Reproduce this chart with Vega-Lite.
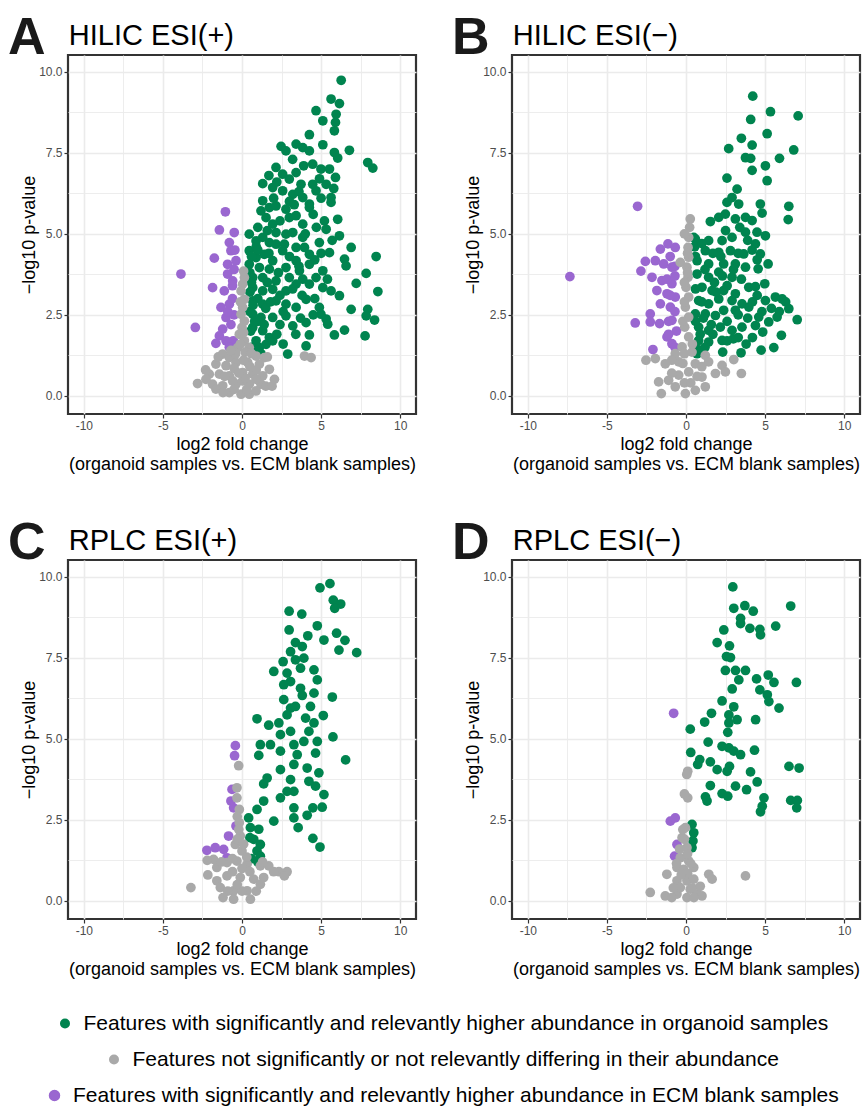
{
  "$schema": "https://vega.github.io/schema/vega-lite/v6.json",
  "padding": {"left": 6, "top": 10, "right": 0, "bottom": 0},
  "background": "white",
  "config": {
    "view": {"stroke": "#333333", "strokeWidth": 2.2},
    "font": "Liberation Sans",
    "axis": {"domain": false, "gridColor": "#EBEBEB", "tickColor": "#333333", "tickSize": 4, "tickWidth": 1.2, "labelColor": "#4D4D4D", "labelFontSize": 12, "labelFont": "Liberation Sans", "labelPadding": 2, "titleFont": "Liberation Sans", "titleFontSize": 18, "titleFontWeight": "normal", "titleColor": "#000000"},
    "legend": {"orient": "bottom", "direction": "vertical", "labelFont": "Liberation Sans", "labelFontSize": 21, "labelColor": "#000000", "labelLimit": 0, "symbolType": "circle", "symbolSize": 100, "symbolOffset": 14, "labelOffset": 8, "padding": 0, "offset": 33,
      "layout": {"bottom": {"anchor": "middle", "direction": "vertical", "center": true, "margin": 15}}}
  },
  "data": {"values": [
    {"p":"A","c":"g","x":6.27,"y":9.74},{"p":"A","c":"g","x":5.63,"y":9.16},{"p":"A","c":"g","x":6.16,"y":9.02},{"p":"A","c":"g","x":5.95,"y":8.69},{"p":"A","c":"g","x":5.91,"y":8.44},{"p":"A","c":"g","x":5.84,"y":8.18},{"p":"A","c":"g","x":4.68,"y":8.8},{"p":"A","c":"g","x":5.11,"y":8.49},{"p":"A","c":"g","x":4.26,"y":8.06},{"p":"A","c":"g","x":5.11,"y":7.75},{"p":"A","c":"g","x":6.79,"y":7.58},{"p":"A","c":"g","x":5.84,"y":7.51},{"p":"A","c":"g","x":6.05,"y":7.34},{"p":"A","c":"g","x":7.95,"y":7.2},{"p":"A","c":"g","x":8.27,"y":7.03},{"p":"A","c":"g","x":2.47,"y":7.7},{"p":"A","c":"g","x":2.78,"y":7.56},{"p":"A","c":"g","x":3.42,"y":7.77},{"p":"A","c":"g","x":3.84,"y":7.66},{"p":"A","c":"g","x":4.26,"y":7.56},{"p":"A","c":"g","x":4.47,"y":7.15},{"p":"A","c":"g","x":4.99,"y":7.0},{"p":"A","c":"g","x":5.53,"y":7.0},{"p":"A","c":"g","x":5.91,"y":6.74},{"p":"A","c":"g","x":5.32,"y":6.53},{"p":"A","c":"g","x":2.15,"y":7.05},{"p":"A","c":"g","x":2.57,"y":6.84},{"p":"A","c":"g","x":2.99,"y":6.69},{"p":"A","c":"g","x":3.42,"y":6.89},{"p":"A","c":"g","x":3.73,"y":6.53},{"p":"A","c":"g","x":1.31,"y":6.55},{"p":"A","c":"g","x":1.94,"y":6.43},{"p":"A","c":"g","x":2.57,"y":6.33},{"p":"A","c":"g","x":3.21,"y":6.22},{"p":"A","c":"g","x":3.84,"y":6.12},{"p":"A","c":"g","x":4.26,"y":5.92},{"p":"A","c":"g","x":4.68,"y":6.33},{"p":"A","c":"g","x":5.63,"y":6.12},{"p":"A","c":"g","x":5.63,"y":5.97},{"p":"A","c":"g","x":1.31,"y":6.02},{"p":"A","c":"g","x":1.73,"y":5.81},{"p":"A","c":"g","x":2.15,"y":5.86},{"p":"A","c":"g","x":2.78,"y":5.76},{"p":"A","c":"g","x":1.2,"y":5.71},{"p":"A","c":"g","x":1.52,"y":5.5},{"p":"A","c":"g","x":1.94,"y":5.3},{"p":"A","c":"g","x":2.99,"y":5.5},{"p":"A","c":"g","x":3.42,"y":5.56},{"p":"A","c":"g","x":4.26,"y":5.81},{"p":"A","c":"g","x":3.84,"y":5.3},{"p":"A","c":"g","x":5.21,"y":5.4},{"p":"A","c":"g","x":6.05,"y":5.45},{"p":"A","c":"g","x":5.32,"y":5.14},{"p":"A","c":"g","x":6.16,"y":4.94},{"p":"A","c":"g","x":2.15,"y":5.04},{"p":"A","c":"g","x":2.78,"y":4.99},{"p":"A","c":"g","x":3.21,"y":5.04},{"p":"A","c":"g","x":3.84,"y":4.89},{"p":"A","c":"g","x":0.46,"y":4.99},{"p":"A","c":"g","x":0.89,"y":4.78},{"p":"A","c":"g","x":1.31,"y":4.89},{"p":"A","c":"g","x":1.73,"y":4.73},{"p":"A","c":"g","x":2.15,"y":4.68},{"p":"A","c":"g","x":2.68,"y":4.68},{"p":"A","c":"g","x":3.42,"y":4.58},{"p":"A","c":"g","x":3.95,"y":4.58},{"p":"A","c":"g","x":4.89,"y":4.73},{"p":"A","c":"g","x":6.9,"y":4.58},{"p":"A","c":"g","x":0.46,"y":4.48},{"p":"A","c":"g","x":0.89,"y":4.27},{"p":"A","c":"g","x":1.41,"y":4.37},{"p":"A","c":"g","x":1.94,"y":4.17},{"p":"A","c":"g","x":2.57,"y":4.48},{"p":"A","c":"g","x":3.42,"y":4.17},{"p":"A","c":"g","x":4.26,"y":4.37},{"p":"A","c":"g","x":5.53,"y":4.42},{"p":"A","c":"g","x":8.48,"y":4.3},{"p":"A","c":"g","x":6.48,"y":4.22},{"p":"A","c":"g","x":6.58,"y":4.01},{"p":"A","c":"g","x":0.46,"y":4.06},{"p":"A","c":"g","x":1.1,"y":3.96},{"p":"A","c":"g","x":1.73,"y":3.91},{"p":"A","c":"g","x":2.78,"y":3.96},{"p":"A","c":"g","x":3.63,"y":3.86},{"p":"A","c":"g","x":4.26,"y":4.06},{"p":"A","c":"g","x":5.11,"y":3.86},{"p":"A","c":"g","x":0.68,"y":3.65},{"p":"A","c":"g","x":1.31,"y":3.65},{"p":"A","c":"g","x":2.15,"y":3.55},{"p":"A","c":"g","x":2.99,"y":3.65},{"p":"A","c":"g","x":3.84,"y":3.6},{"p":"A","c":"g","x":4.68,"y":3.65},{"p":"A","c":"g","x":7.85,"y":3.78},{"p":"A","c":"g","x":7.22,"y":3.47},{"p":"A","c":"g","x":0.68,"y":3.34},{"p":"A","c":"g","x":1.31,"y":3.24},{"p":"A","c":"g","x":1.94,"y":3.29},{"p":"A","c":"g","x":2.78,"y":3.24},{"p":"A","c":"g","x":3.42,"y":3.45},{"p":"A","c":"g","x":4.26,"y":3.45},{"p":"A","c":"g","x":5.11,"y":3.34},{"p":"A","c":"g","x":5.63,"y":3.24},{"p":"A","c":"g","x":6.16,"y":3.09},{"p":"A","c":"g","x":8.59,"y":3.22},{"p":"A","c":"g","x":0.68,"y":2.93},{"p":"A","c":"g","x":1.31,"y":2.83},{"p":"A","c":"g","x":2.15,"y":2.93},{"p":"A","c":"g","x":2.78,"y":2.83},{"p":"A","c":"g","x":3.42,"y":2.73},{"p":"A","c":"g","x":4.05,"y":2.98},{"p":"A","c":"g","x":4.89,"y":2.73},{"p":"A","c":"g","x":4.99,"y":2.52},{"p":"A","c":"g","x":5.32,"y":2.37},{"p":"A","c":"g","x":6.9,"y":2.67},{"p":"A","c":"g","x":7.95,"y":2.67},{"p":"A","c":"g","x":7.85,"y":2.47},{"p":"A","c":"g","x":8.38,"y":2.34},{"p":"A","c":"g","x":0.68,"y":2.52},{"p":"A","c":"g","x":1.2,"y":2.42},{"p":"A","c":"g","x":1.94,"y":2.42},{"p":"A","c":"g","x":2.78,"y":2.47},{"p":"A","c":"g","x":3.21,"y":2.16},{"p":"A","c":"g","x":4.05,"y":2.26},{"p":"A","c":"g","x":5.42,"y":2.21},{"p":"A","c":"g","x":6.48,"y":2.03},{"p":"A","c":"g","x":4.26,"y":1.88},{"p":"A","c":"g","x":5.84,"y":1.88},{"p":"A","c":"g","x":7.78,"y":1.85},{"p":"A","c":"g","x":0.68,"y":2.11},{"p":"A","c":"g","x":1.31,"y":2.01},{"p":"A","c":"g","x":1.73,"y":1.8},{"p":"A","c":"g","x":0.89,"y":1.7},{"p":"A","c":"g","x":1.52,"y":1.59},{"p":"A","c":"g","x":1.94,"y":1.7},{"p":"A","c":"g","x":4.05,"y":1.54},{"p":"A","c":"g","x":2.89,"y":1.29},{"p":"A","c":"g","x":1.1,"y":1.49},{"p":"A","c":"g","x":4.47,"y":6.53},{"p":"A","c":"g","x":0.5,"y":3.8},{"p":"A","c":"g","x":0.5,"y":3.2},{"p":"A","c":"g","x":0.5,"y":2.6},{"p":"A","c":"g","x":0.55,"y":2.0},{"p":"A","c":"g","x":0.6,"y":1.5},{"p":"A","c":"g","x":1.0,"y":2.3},{"p":"A","c":"g","x":1.0,"y":3.0},{"p":"A","c":"g","x":1.2,"y":1.3},{"p":"A","c":"g","x":0.9,"y":4.6},{"p":"A","c":"g","x":1.5,"y":2.7},{"p":"A","c":"g","x":1.6,"y":3.5},{"p":"A","c":"g","x":2.4,"y":3.1},{"p":"A","c":"g","x":2.4,"y":2.2},{"p":"A","c":"g","x":1.0,"y":5.2},{"p":"A","c":"g","x":1.6,"y":5.1},{"p":"A","c":"g","x":2.4,"y":5.4},{"p":"A","c":"g","x":3.0,"y":6.0},{"p":"A","c":"g","x":3.6,"y":6.3},{"p":"A","c":"g","x":2.0,"y":6.1},{"p":"A","c":"g","x":1.7,"y":4.4},{"p":"A","c":"g","x":2.3,"y":3.8},{"p":"A","c":"g","x":3.2,"y":3.3},{"p":"A","c":"g","x":3.8,"y":3.1},{"p":"A","c":"g","x":4.6,"y":3.0},{"p":"A","c":"g","x":4.5,"y":2.5},{"p":"A","c":"g","x":3.7,"y":2.4},{"p":"A","c":"g","x":2.2,"y":1.9},{"p":"A","c":"g","x":2.6,"y":1.6},{"p":"A","c":"g","x":3.4,"y":1.9},{"p":"A","c":"g","x":1.4,"y":2.2},{"p":"A","c":"g","x":1.8,"y":2.9},{"p":"A","c":"g","x":2.6,"y":2.6},{"p":"A","c":"g","x":3.0,"y":4.3},{"p":"A","c":"g","x":3.6,"y":4.0},{"p":"A","c":"g","x":4.6,"y":4.2},{"p":"A","c":"g","x":5.0,"y":4.4},{"p":"A","c":"g","x":5.7,"y":4.8},{"p":"A","c":"g","x":5.4,"y":3.6},{"p":"A","c":"g","x":4.0,"y":5.0},{"p":"A","c":"g","x":4.7,"y":5.2},{"p":"A","c":"g","x":4.5,"y":5.6},{"p":"A","c":"g","x":3.3,"y":5.9},{"p":"A","c":"g","x":5.0,"y":6.1},{"p":"A","c":"g","x":5.8,"y":6.4},{"p":"A","c":"g","x":4.9,"y":6.7},{"p":"A","c":"g","x":3.9,"y":7.1},{"p":"A","c":"g","x":3.2,"y":7.3},{"p":"A","c":"g","x":2.2,"y":6.6},{"p":"A","c":"g","x":1.7,"y":6.8},{"p":"A","c":"g","x":1.0,"y":4.5},{"p":"A","c":"g","x":0.6,"y":4.3},{"p":"A","c":"g","x":0.6,"y":3.5},{"p":"A","c":"g","x":0.7,"y":2.8},{"p":"A","c":"g","x":0.8,"y":2.3},{"p":"A","c":"g","x":0.9,"y":1.4},
    {"p":"A","c":"u","x":-1.05,"y":5.68},{"p":"A","c":"u","x":-1.43,"y":5.12},{"p":"A","c":"u","x":-0.49,"y":5.04},{"p":"A","c":"u","x":-0.8,"y":4.73},{"p":"A","c":"u","x":-0.7,"y":4.48},{"p":"A","c":"u","x":-1.75,"y":4.25},{"p":"A","c":"u","x":-0.91,"y":4.06},{"p":"A","c":"u","x":-0.38,"y":4.17},{"p":"A","c":"u","x":-3.86,"y":3.76},{"p":"A","c":"u","x":-0.91,"y":3.76},{"p":"A","c":"u","x":-0.59,"y":3.55},{"p":"A","c":"u","x":-1.86,"y":3.34},{"p":"A","c":"u","x":-1.12,"y":3.24},{"p":"A","c":"u","x":-1.33,"y":2.73},{"p":"A","c":"u","x":-0.8,"y":2.83},{"p":"A","c":"u","x":-1.01,"y":2.42},{"p":"A","c":"u","x":-2.95,"y":2.11},{"p":"A","c":"u","x":-1.22,"y":2.06},{"p":"A","c":"u","x":-1.43,"y":1.85},{"p":"A","c":"u","x":-1.65,"y":1.62},{"p":"A","c":"u","x":-1.01,"y":1.7},{"p":"A","c":"u","x":-0.5,"y":3.9},{"p":"A","c":"u","x":-0.6,"y":3.0},{"p":"A","c":"u","x":-0.5,"y":2.5},{"p":"A","c":"u","x":-0.7,"y":2.2},{"p":"A","c":"u","x":-0.55,"y":1.7},{"p":"A","c":"u","x":-0.9,"y":2.6},{"p":"A","c":"u","x":-0.6,"y":3.4},{"p":"A","c":"u","x":-0.45,"y":4.5},{"p":"A","c":"u","x":-0.8,"y":1.5},
    {"p":"A","c":"n","x":0.15,"y":3.65},{"p":"A","c":"n","x":0.04,"y":3.45},{"p":"A","c":"n","x":-0.06,"y":3.24},{"p":"A","c":"n","x":0.15,"y":2.98},{"p":"A","c":"n","x":0.04,"y":2.73},{"p":"A","c":"n","x":-0.06,"y":2.52},{"p":"A","c":"n","x":0.15,"y":2.31},{"p":"A","c":"n","x":0.0,"y":2.11},{"p":"A","c":"n","x":-0.17,"y":1.9},{"p":"A","c":"n","x":0.15,"y":1.7},{"p":"A","c":"n","x":-0.27,"y":1.49},{"p":"A","c":"n","x":0.46,"y":1.49},{"p":"A","c":"n","x":-1.22,"y":1.29},{"p":"A","c":"n","x":-0.8,"y":1.18},{"p":"A","c":"n","x":0.89,"y":1.23},{"p":"A","c":"n","x":1.41,"y":1.18},{"p":"A","c":"n","x":-1.65,"y":0.98},{"p":"A","c":"n","x":-1.01,"y":0.93},{"p":"A","c":"n","x":-0.38,"y":1.03},{"p":"A","c":"n","x":0.36,"y":1.03},{"p":"A","c":"n","x":1.1,"y":0.98},{"p":"A","c":"n","x":1.73,"y":0.82},{"p":"A","c":"n","x":-2.07,"y":0.67},{"p":"A","c":"n","x":-1.43,"y":0.67},{"p":"A","c":"n","x":-0.8,"y":0.62},{"p":"A","c":"n","x":0.04,"y":0.72},{"p":"A","c":"n","x":0.68,"y":0.67},{"p":"A","c":"n","x":1.31,"y":0.62},{"p":"A","c":"n","x":2.05,"y":0.51},{"p":"A","c":"n","x":-2.81,"y":0.38},{"p":"A","c":"n","x":-1.86,"y":0.36},{"p":"A","c":"n","x":-1.22,"y":0.31},{"p":"A","c":"n","x":-0.38,"y":0.36},{"p":"A","c":"n","x":0.46,"y":0.36},{"p":"A","c":"n","x":1.2,"y":0.36},{"p":"A","c":"n","x":-0.8,"y":0.1},{"p":"A","c":"n","x":-0.06,"y":0.05},{"p":"A","c":"n","x":0.46,"y":0.05},{"p":"A","c":"n","x":3.95,"y":1.23},{"p":"A","c":"n","x":4.37,"y":1.18},{"p":"A","c":"n","x":-0.59,"y":0.46},{"p":"A","c":"n","x":0.04,"y":0.46},{"p":"A","c":"n","x":0.89,"y":0.51},{"p":"A","c":"n","x":-2.28,"y":0.51},{"p":"A","c":"n","x":-1.65,"y":0.21},{"p":"A","c":"n","x":0.89,"y":0.15},{"p":"A","c":"n","x":-0.5,"y":0.2},{"p":"A","c":"n","x":0.3,"y":0.2},{"p":"A","c":"n","x":0.2,"y":0.55},{"p":"A","c":"n","x":0.9,"y":0.8},{"p":"A","c":"n","x":-0.5,"y":0.85},{"p":"A","c":"n","x":0.2,"y":1.35},{"p":"A","c":"n","x":-0.4,"y":1.3},{"p":"A","c":"n","x":0.1,"y":1.1},{"p":"A","c":"n","x":-0.2,"y":0.7},{"p":"A","c":"n","x":0.1,"y":3.85},{"p":"A","c":"n","x":-0.1,"y":2.9},{"p":"A","c":"n","x":0.1,"y":1.95},{"p":"A","c":"n","x":-0.1,"y":1.6},{"p":"A","c":"n","x":-1.2,"y":0.1},{"p":"A","c":"n","x":1.5,"y":0.3},{"p":"A","c":"n","x":-2.3,"y":0.8},{"p":"A","c":"n","x":1.6,"y":1.2},{"p":"A","c":"n","x":-1.5,"y":1.2},{"p":"A","c":"n","x":0.6,"y":1.3},{"p":"A","c":"n","x":-0.7,"y":1.4},{"p":"A","c":"n","x":0.5,"y":0.9},{"p":"A","c":"n","x":-1.1,"y":0.6},{"p":"A","c":"n","x":1.9,"y":0.3},
    {"p":"B","c":"g","x":4.22,"y":9.25},{"p":"B","c":"g","x":5.34,"y":8.77},{"p":"B","c":"g","x":7.09,"y":8.64},{"p":"B","c":"g","x":4.09,"y":8.53},{"p":"B","c":"g","x":5.13,"y":8.09},{"p":"B","c":"g","x":3.5,"y":7.95},{"p":"B","c":"g","x":4.18,"y":7.74},{"p":"B","c":"g","x":2.7,"y":7.63},{"p":"B","c":"g","x":6.81,"y":7.59},{"p":"B","c":"g","x":3.76,"y":7.35},{"p":"B","c":"g","x":4.09,"y":7.33},{"p":"B","c":"g","x":5.91,"y":7.33},{"p":"B","c":"g","x":5.02,"y":7.1},{"p":"B","c":"g","x":4.18,"y":6.96},{"p":"B","c":"g","x":2.59,"y":6.72},{"p":"B","c":"g","x":5.13,"y":6.64},{"p":"B","c":"g","x":3.23,"y":6.38},{"p":"B","c":"g","x":2.91,"y":6.12},{"p":"B","c":"g","x":2.59,"y":5.97},{"p":"B","c":"g","x":3.33,"y":5.92},{"p":"B","c":"g","x":4.7,"y":5.92},{"p":"B","c":"g","x":4.81,"y":5.64},{"p":"B","c":"g","x":6.5,"y":5.85},{"p":"B","c":"g","x":6.46,"y":5.44},{"p":"B","c":"g","x":1.54,"y":5.38},{"p":"B","c":"g","x":2.07,"y":5.51},{"p":"B","c":"g","x":2.49,"y":5.61},{"p":"B","c":"g","x":3.12,"y":5.46},{"p":"B","c":"g","x":3.76,"y":5.51},{"p":"B","c":"g","x":4.18,"y":5.41},{"p":"B","c":"g","x":4.49,"y":5.05},{"p":"B","c":"g","x":5.02,"y":4.94},{"p":"B","c":"g","x":0.59,"y":4.84},{"p":"B","c":"g","x":1.43,"y":4.79},{"p":"B","c":"g","x":2.28,"y":4.79},{"p":"B","c":"g","x":2.91,"y":4.89},{"p":"B","c":"g","x":3.76,"y":5.05},{"p":"B","c":"g","x":4.39,"y":4.69},{"p":"B","c":"g","x":1.22,"y":4.48},{"p":"B","c":"g","x":2.07,"y":4.43},{"p":"B","c":"g","x":2.81,"y":4.48},{"p":"B","c":"g","x":3.65,"y":4.38},{"p":"B","c":"g","x":4.18,"y":4.5},{"p":"B","c":"g","x":4.7,"y":4.38},{"p":"B","c":"g","x":5.19,"y":4.07},{"p":"B","c":"g","x":0.7,"y":4.17},{"p":"B","c":"g","x":1.43,"y":4.07},{"p":"B","c":"g","x":2.38,"y":4.07},{"p":"B","c":"g","x":3.12,"y":4.07},{"p":"B","c":"g","x":3.76,"y":3.97},{"p":"B","c":"g","x":4.56,"y":3.92},{"p":"B","c":"g","x":0.7,"y":3.76},{"p":"B","c":"g","x":1.43,"y":3.66},{"p":"B","c":"g","x":2.07,"y":3.82},{"p":"B","c":"g","x":2.91,"y":3.66},{"p":"B","c":"g","x":3.97,"y":3.35},{"p":"B","c":"g","x":4.39,"y":3.37},{"p":"B","c":"g","x":4.98,"y":3.46},{"p":"B","c":"g","x":1.01,"y":3.35},{"p":"B","c":"g","x":1.65,"y":3.25},{"p":"B","c":"g","x":2.38,"y":3.25},{"p":"B","c":"g","x":3.12,"y":3.15},{"p":"B","c":"g","x":0.8,"y":2.94},{"p":"B","c":"g","x":1.43,"y":2.84},{"p":"B","c":"g","x":2.07,"y":2.99},{"p":"B","c":"g","x":2.91,"y":2.94},{"p":"B","c":"g","x":3.54,"y":2.84},{"p":"B","c":"g","x":5.65,"y":3.05},{"p":"B","c":"g","x":6.08,"y":2.99},{"p":"B","c":"g","x":6.5,"y":2.69},{"p":"B","c":"g","x":5.02,"y":2.94},{"p":"B","c":"g","x":0.59,"y":2.53},{"p":"B","c":"g","x":1.22,"y":2.53},{"p":"B","c":"g","x":1.86,"y":2.48},{"p":"B","c":"g","x":2.38,"y":2.64},{"p":"B","c":"g","x":3.12,"y":2.64},{"p":"B","c":"g","x":3.97,"y":2.74},{"p":"B","c":"g","x":4.6,"y":2.43},{"p":"B","c":"g","x":5.23,"y":2.28},{"p":"B","c":"g","x":5.76,"y":2.43},{"p":"B","c":"g","x":7.03,"y":2.35},{"p":"B","c":"g","x":0.8,"y":2.12},{"p":"B","c":"g","x":1.43,"y":2.02},{"p":"B","c":"g","x":2.17,"y":2.12},{"p":"B","c":"g","x":2.91,"y":2.02},{"p":"B","c":"g","x":3.54,"y":2.12},{"p":"B","c":"g","x":4.39,"y":2.17},{"p":"B","c":"g","x":4.85,"y":1.97},{"p":"B","c":"g","x":6.03,"y":1.87},{"p":"B","c":"g","x":0.8,"y":1.71},{"p":"B","c":"g","x":1.43,"y":1.66},{"p":"B","c":"g","x":2.28,"y":1.71},{"p":"B","c":"g","x":2.99,"y":1.76},{"p":"B","c":"g","x":2.32,"y":1.35},{"p":"B","c":"g","x":3.48,"y":1.33},{"p":"B","c":"g","x":4.75,"y":1.41},{"p":"B","c":"g","x":5.55,"y":1.49},{"p":"B","c":"g","x":1.01,"y":1.41},{"p":"B","c":"g","x":0.49,"y":4.89},{"p":"B","c":"g","x":0.6,"y":1.5},{"p":"B","c":"g","x":0.6,"y":2.3},{"p":"B","c":"g","x":0.6,"y":3.3},{"p":"B","c":"g","x":0.6,"y":4.3},{"p":"B","c":"g","x":1.0,"y":2.9},{"p":"B","c":"g","x":1.2,"y":3.9},{"p":"B","c":"g","x":0.9,"y":1.9},{"p":"B","c":"g","x":1.6,"y":2.2},{"p":"B","c":"g","x":1.8,"y":3.5},{"p":"B","c":"g","x":2.2,"y":4.3},{"p":"B","c":"g","x":0.55,"y":4.6},{"p":"B","c":"g","x":2.6,"y":3.4},{"p":"B","c":"g","x":3.3,"y":1.8},{"p":"B","c":"g","x":3.9,"y":2.4},{"p":"B","c":"g","x":3.0,"y":3.9},{"p":"B","c":"g","x":0.7,"y":1.3},{"p":"B","c":"g","x":1.2,"y":1.5},{"p":"B","c":"g","x":1.7,"y":1.9},{"p":"B","c":"g","x":2.6,"y":2.3},{"p":"B","c":"g","x":3.3,"y":2.5},{"p":"B","c":"g","x":4.2,"y":2.9},{"p":"B","c":"g","x":4.8,"y":2.6},{"p":"B","c":"g","x":5.4,"y":2.7},{"p":"B","c":"g","x":5.9,"y":2.6},{"p":"B","c":"g","x":6.3,"y":2.9},{"p":"B","c":"g","x":4.5,"y":3.1},{"p":"B","c":"g","x":3.5,"y":3.6},{"p":"B","c":"g","x":3.3,"y":4.4},{"p":"B","c":"g","x":3.9,"y":4.8},{"p":"B","c":"g","x":1.7,"y":4.4},{"p":"B","c":"g","x":1.0,"y":4.7},{"p":"B","c":"g","x":2.5,"y":5.1},{"p":"B","c":"g","x":3.4,"y":5.2},{"p":"B","c":"g","x":4.5,"y":4.2},{"p":"B","c":"g","x":1.9,"y":3.2},{"p":"B","c":"g","x":2.3,"y":3.7},{"p":"B","c":"g","x":1.1,"y":2.4},{"p":"B","c":"g","x":2.6,"y":1.7},{"p":"B","c":"g","x":3.8,"y":1.6},{"p":"B","c":"g","x":4.2,"y":1.8},
    {"p":"B","c":"u","x":-3.06,"y":5.85},{"p":"B","c":"u","x":-7.34,"y":3.68},{"p":"B","c":"u","x":-1.14,"y":4.69},{"p":"B","c":"u","x":-0.68,"y":4.58},{"p":"B","c":"u","x":-1.62,"y":4.53},{"p":"B","c":"u","x":-2.57,"y":4.15},{"p":"B","c":"u","x":-1.94,"y":4.17},{"p":"B","c":"u","x":-2.85,"y":3.85},{"p":"B","c":"u","x":-1.41,"y":4.07},{"p":"B","c":"u","x":-0.89,"y":3.97},{"p":"B","c":"u","x":-2.15,"y":3.66},{"p":"B","c":"u","x":-1.52,"y":3.56},{"p":"B","c":"u","x":-0.89,"y":3.46},{"p":"B","c":"u","x":-1.84,"y":3.25},{"p":"B","c":"u","x":-1.2,"y":3.15},{"p":"B","c":"u","x":-0.68,"y":3.05},{"p":"B","c":"u","x":-1.62,"y":2.84},{"p":"B","c":"u","x":-0.99,"y":2.74},{"p":"B","c":"u","x":-2.26,"y":2.53},{"p":"B","c":"u","x":-3.21,"y":2.25},{"p":"B","c":"u","x":-2.26,"y":2.28},{"p":"B","c":"u","x":-1.67,"y":2.23},{"p":"B","c":"u","x":-0.89,"y":2.33},{"p":"B","c":"u","x":-1.2,"y":1.82},{"p":"B","c":"u","x":-0.89,"y":1.61},{"p":"B","c":"u","x":-2.09,"y":1.43},{"p":"B","c":"u","x":-1.0,"y":4.3},{"p":"B","c":"u","x":-0.7,"y":4.0},{"p":"B","c":"u","x":-1.2,"y":3.6},{"p":"B","c":"u","x":-0.7,"y":3.7},{"p":"B","c":"u","x":-1.0,"y":3.1},{"p":"B","c":"u","x":-0.7,"y":2.6},{"p":"B","c":"u","x":-1.1,"y":2.3},{"p":"B","c":"u","x":-0.6,"y":2.0},{"p":"B","c":"u","x":-1.1,"y":1.9},{"p":"B","c":"u","x":-0.7,"y":1.5},
    {"p":"B","c":"n","x":0.27,"y":5.46},{"p":"B","c":"n","x":0.23,"y":5.2},{"p":"B","c":"n","x":0.17,"y":4.89},{"p":"B","c":"n","x":0.13,"y":4.58},{"p":"B","c":"n","x":0.17,"y":4.28},{"p":"B","c":"n","x":-0.36,"y":4.12},{"p":"B","c":"n","x":0.06,"y":3.97},{"p":"B","c":"n","x":0.13,"y":3.66},{"p":"B","c":"n","x":0.0,"y":3.35},{"p":"B","c":"n","x":0.17,"y":3.05},{"p":"B","c":"n","x":-0.04,"y":2.74},{"p":"B","c":"n","x":0.17,"y":2.43},{"p":"B","c":"n","x":-0.08,"y":2.12},{"p":"B","c":"n","x":0.17,"y":1.82},{"p":"B","c":"n","x":-0.25,"y":1.51},{"p":"B","c":"n","x":-0.68,"y":1.3},{"p":"B","c":"n","x":0.38,"y":1.35},{"p":"B","c":"n","x":1.22,"y":1.25},{"p":"B","c":"n","x":-2.53,"y":1.1},{"p":"B","c":"n","x":-1.94,"y":1.15},{"p":"B","c":"n","x":3.02,"y":1.12},{"p":"B","c":"n","x":-1.31,"y":0.99},{"p":"B","c":"n","x":-0.46,"y":1.05},{"p":"B","c":"n","x":0.59,"y":0.99},{"p":"B","c":"n","x":1.43,"y":1.05},{"p":"B","c":"n","x":2.28,"y":0.94},{"p":"B","c":"n","x":2.49,"y":0.74},{"p":"B","c":"n","x":1.86,"y":0.69},{"p":"B","c":"n","x":3.5,"y":0.69},{"p":"B","c":"n","x":-1.73,"y":0.43},{"p":"B","c":"n","x":-1.1,"y":0.48},{"p":"B","c":"n","x":-0.46,"y":0.64},{"p":"B","c":"n","x":0.17,"y":0.74},{"p":"B","c":"n","x":1.01,"y":0.58},{"p":"B","c":"n","x":-1.56,"y":0.07},{"p":"B","c":"n","x":-0.68,"y":0.28},{"p":"B","c":"n","x":-0.04,"y":0.07},{"p":"B","c":"n","x":0.59,"y":0.17},{"p":"B","c":"n","x":1.22,"y":0.28},{"p":"B","c":"n","x":-0.1,"y":0.4},{"p":"B","c":"n","x":0.3,"y":0.4},{"p":"B","c":"n","x":-0.2,"y":1.0},{"p":"B","c":"n","x":0.4,"y":1.6},{"p":"B","c":"n","x":-0.1,"y":2.9},{"p":"B","c":"n","x":0.1,"y":3.8},{"p":"B","c":"n","x":-0.2,"y":2.3},{"p":"B","c":"n","x":0.7,"y":0.6},{"p":"B","c":"n","x":-0.9,"y":0.7},{"p":"B","c":"n","x":-0.1,"y":5.0},{"p":"B","c":"n","x":0.1,"y":4.4},{"p":"B","c":"n","x":-0.1,"y":3.5},{"p":"B","c":"n","x":-0.1,"y":1.3},{"p":"B","c":"n","x":1.0,"y":0.9},{"p":"B","c":"n","x":-0.9,"y":1.1},
    {"p":"C","c":"g","x":5.56,"y":9.79},{"p":"C","c":"g","x":4.93,"y":9.66},{"p":"C","c":"g","x":5.77,"y":9.28},{"p":"C","c":"g","x":6.24,"y":9.16},{"p":"C","c":"g","x":5.86,"y":9.03},{"p":"C","c":"g","x":2.98,"y":8.94},{"p":"C","c":"g","x":3.78,"y":8.85},{"p":"C","c":"g","x":2.98,"y":8.36},{"p":"C","c":"g","x":4.76,"y":8.49},{"p":"C","c":"g","x":4.16,"y":8.18},{"p":"C","c":"g","x":5.18,"y":8.05},{"p":"C","c":"g","x":5.98,"y":8.26},{"p":"C","c":"g","x":6.51,"y":8.04},{"p":"C","c":"g","x":6.13,"y":7.74},{"p":"C","c":"g","x":7.25,"y":7.66},{"p":"C","c":"g","x":3.38,"y":7.97},{"p":"C","c":"g","x":3.81,"y":7.85},{"p":"C","c":"g","x":3.07,"y":7.69},{"p":"C","c":"g","x":2.6,"y":7.38},{"p":"C","c":"g","x":3.38,"y":7.44},{"p":"C","c":"g","x":3.91,"y":7.49},{"p":"C","c":"g","x":2.01,"y":7.08},{"p":"C","c":"g","x":2.85,"y":7.03},{"p":"C","c":"g","x":3.7,"y":7.18},{"p":"C","c":"g","x":4.55,"y":7.13},{"p":"C","c":"g","x":4.76,"y":6.82},{"p":"C","c":"g","x":3.07,"y":6.77},{"p":"C","c":"g","x":2.64,"y":6.67},{"p":"C","c":"g","x":3.7,"y":6.56},{"p":"C","c":"g","x":4.55,"y":6.41},{"p":"C","c":"g","x":3.81,"y":6.34},{"p":"C","c":"g","x":5.71,"y":6.29},{"p":"C","c":"g","x":2.64,"y":6.21},{"p":"C","c":"g","x":3.07,"y":5.95},{"p":"C","c":"g","x":3.38,"y":6.0},{"p":"C","c":"g","x":4.33,"y":6.0},{"p":"C","c":"g","x":2.85,"y":5.74},{"p":"C","c":"g","x":4.02,"y":5.64},{"p":"C","c":"g","x":4.55,"y":5.49},{"p":"C","c":"g","x":5.14,"y":5.72},{"p":"C","c":"g","x":0.95,"y":5.62},{"p":"C","c":"g","x":1.69,"y":5.42},{"p":"C","c":"g","x":2.33,"y":5.49},{"p":"C","c":"g","x":3.07,"y":5.23},{"p":"C","c":"g","x":2.43,"y":5.13},{"p":"C","c":"g","x":4.23,"y":5.23},{"p":"C","c":"g","x":4.76,"y":4.92},{"p":"C","c":"g","x":5.75,"y":5.06},{"p":"C","c":"g","x":1.16,"y":4.82},{"p":"C","c":"g","x":1.8,"y":4.82},{"p":"C","c":"g","x":2.43,"y":4.62},{"p":"C","c":"g","x":3.28,"y":4.82},{"p":"C","c":"g","x":3.91,"y":4.92},{"p":"C","c":"g","x":1.06,"y":4.49},{"p":"C","c":"g","x":3.49,"y":4.51},{"p":"C","c":"g","x":4.65,"y":4.56},{"p":"C","c":"g","x":6.55,"y":4.35},{"p":"C","c":"g","x":2.43,"y":4.05},{"p":"C","c":"g","x":3.28,"y":4.21},{"p":"C","c":"g","x":4.12,"y":4.1},{"p":"C","c":"g","x":4.86,"y":3.95},{"p":"C","c":"g","x":1.59,"y":3.79},{"p":"C","c":"g","x":1.37,"y":3.61},{"p":"C","c":"g","x":3.07,"y":3.74},{"p":"C","c":"g","x":4.23,"y":3.69},{"p":"C","c":"g","x":4.65,"y":3.54},{"p":"C","c":"g","x":2.43,"y":3.18},{"p":"C","c":"g","x":2.85,"y":3.38},{"p":"C","c":"g","x":3.28,"y":3.38},{"p":"C","c":"g","x":5.18,"y":3.28},{"p":"C","c":"g","x":1.37,"y":3.08},{"p":"C","c":"g","x":0.95,"y":2.82},{"p":"C","c":"g","x":3.28,"y":2.87},{"p":"C","c":"g","x":4.48,"y":2.87},{"p":"C","c":"g","x":5.07,"y":2.89},{"p":"C","c":"g","x":0.42,"y":2.56},{"p":"C","c":"g","x":2.01,"y":2.46},{"p":"C","c":"g","x":3.28,"y":2.56},{"p":"C","c":"g","x":4.12,"y":2.64},{"p":"C","c":"g","x":0.53,"y":2.26},{"p":"C","c":"g","x":1.06,"y":2.21},{"p":"C","c":"g","x":3.55,"y":2.26},{"p":"C","c":"g","x":0.74,"y":1.9},{"p":"C","c":"g","x":1.16,"y":1.74},{"p":"C","c":"g","x":4.48,"y":1.93},{"p":"C","c":"g","x":4.93,"y":1.66},{"p":"C","c":"g","x":0.95,"y":1.54},{"p":"C","c":"g","x":1.16,"y":1.38},{"p":"C","c":"g","x":0.6,"y":1.3},{"p":"C","c":"g","x":1.0,"y":1.2},{"p":"C","c":"g","x":0.5,"y":1.95},
    {"p":"C","c":"u","x":-0.42,"y":4.79},{"p":"C","c":"u","x":-0.47,"y":4.48},{"p":"C","c":"u","x":-0.63,"y":3.44},{"p":"C","c":"u","x":-0.7,"y":3.08},{"p":"C","c":"u","x":-0.53,"y":2.87},{"p":"C","c":"u","x":-0.38,"y":2.31},{"p":"C","c":"u","x":-0.85,"y":2.0},{"p":"C","c":"u","x":-2.22,"y":1.56},{"p":"C","c":"u","x":-1.69,"y":1.64},{"p":"C","c":"u","x":-1.16,"y":1.59},{"p":"C","c":"u","x":-0.95,"y":1.33},
    {"p":"C","c":"n","x":-0.21,"y":4.17},{"p":"C","c":"n","x":-0.32,"y":3.49},{"p":"C","c":"n","x":-0.32,"y":3.18},{"p":"C","c":"n","x":-0.17,"y":2.82},{"p":"C","c":"n","x":-0.17,"y":2.41},{"p":"C","c":"n","x":-0.11,"y":2.0},{"p":"C","c":"n","x":-0.42,"y":1.74},{"p":"C","c":"n","x":0.0,"y":1.54},{"p":"C","c":"n","x":-1.8,"y":1.28},{"p":"C","c":"n","x":-1.59,"y":1.03},{"p":"C","c":"n","x":-2.16,"y":0.8},{"p":"C","c":"n","x":-3.23,"y":0.41},{"p":"C","c":"n","x":-0.95,"y":1.18},{"p":"C","c":"n","x":-0.32,"y":1.23},{"p":"C","c":"n","x":0.32,"y":1.13},{"p":"C","c":"n","x":1.16,"y":1.08},{"p":"C","c":"n","x":1.69,"y":1.08},{"p":"C","c":"n","x":2.33,"y":0.9},{"p":"C","c":"n","x":2.85,"y":0.9},{"p":"C","c":"n","x":2.68,"y":0.77},{"p":"C","c":"n","x":-1.59,"y":0.62},{"p":"C","c":"n","x":-0.95,"y":0.77},{"p":"C","c":"n","x":-0.11,"y":0.72},{"p":"C","c":"n","x":0.74,"y":0.67},{"p":"C","c":"n","x":1.37,"y":0.72},{"p":"C","c":"n","x":-1.37,"y":0.41},{"p":"C","c":"n","x":-0.53,"y":0.31},{"p":"C","c":"n","x":0.32,"y":0.31},{"p":"C","c":"n","x":1.16,"y":0.51},{"p":"C","c":"n","x":-0.53,"y":0.05},{"p":"C","c":"n","x":0.53,"y":0.05},{"p":"C","c":"n","x":-0.2,"y":2.2},{"p":"C","c":"n","x":-0.3,"y":1.9},{"p":"C","c":"n","x":0.1,"y":1.75},{"p":"C","c":"n","x":0.3,"y":1.35},{"p":"C","c":"n","x":-0.6,"y":1.3},{"p":"C","c":"n","x":-1.3,"y":1.2},{"p":"C","c":"n","x":0.0,"y":0.3},{"p":"C","c":"n","x":-0.9,"y":0.3},{"p":"C","c":"n","x":0.9,"y":0.3},{"p":"C","c":"n","x":1.3,"y":1.2},{"p":"C","c":"n","x":0.5,"y":0.9},{"p":"C","c":"n","x":-0.6,"y":0.9},{"p":"C","c":"n","x":2.0,"y":0.9},{"p":"C","c":"n","x":-2.2,"y":1.25},{"p":"C","c":"n","x":-0.3,"y":0.5},{"p":"C","c":"n","x":-1.2,"y":0.1},{"p":"C","c":"n","x":0.0,"y":1.0},{"p":"C","c":"n","x":-0.3,"y":2.6},
    {"p":"D","c":"g","x":2.96,"y":9.69},{"p":"D","c":"g","x":6.62,"y":9.1},{"p":"D","c":"g","x":3.02,"y":9.03},{"p":"D","c":"g","x":3.72,"y":9.11},{"p":"D","c":"g","x":4.25,"y":8.94},{"p":"D","c":"g","x":3.45,"y":8.72},{"p":"D","c":"g","x":3.45,"y":8.56},{"p":"D","c":"g","x":5.67,"y":8.48},{"p":"D","c":"g","x":2.39,"y":8.36},{"p":"D","c":"g","x":4.04,"y":8.41},{"p":"D","c":"g","x":4.67,"y":8.38},{"p":"D","c":"g","x":4.71,"y":8.21},{"p":"D","c":"g","x":1.97,"y":7.97},{"p":"D","c":"g","x":2.75,"y":7.87},{"p":"D","c":"g","x":2.56,"y":7.54},{"p":"D","c":"g","x":2.81,"y":7.51},{"p":"D","c":"g","x":2.49,"y":7.11},{"p":"D","c":"g","x":3.13,"y":7.11},{"p":"D","c":"g","x":3.76,"y":7.11},{"p":"D","c":"g","x":3.34,"y":6.82},{"p":"D","c":"g","x":4.46,"y":6.85},{"p":"D","c":"g","x":5.2,"y":6.97},{"p":"D","c":"g","x":5.56,"y":6.74},{"p":"D","c":"g","x":6.98,"y":6.74},{"p":"D","c":"g","x":2.92,"y":6.54},{"p":"D","c":"g","x":4.67,"y":6.51},{"p":"D","c":"g","x":5.14,"y":6.36},{"p":"D","c":"g","x":5.24,"y":6.15},{"p":"D","c":"g","x":5.88,"y":5.95},{"p":"D","c":"g","x":2.28,"y":6.17},{"p":"D","c":"g","x":3.02,"y":5.99},{"p":"D","c":"g","x":2.71,"y":5.74},{"p":"D","c":"g","x":3.23,"y":5.59},{"p":"D","c":"g","x":4.4,"y":5.59},{"p":"D","c":"g","x":1.18,"y":5.52},{"p":"D","c":"g","x":1.61,"y":5.79},{"p":"D","c":"g","x":0.27,"y":5.3},{"p":"D","c":"g","x":2.71,"y":5.49},{"p":"D","c":"g","x":2.64,"y":5.2},{"p":"D","c":"g","x":1.4,"y":4.9},{"p":"D","c":"g","x":2.28,"y":4.77},{"p":"D","c":"g","x":2.71,"y":4.72},{"p":"D","c":"g","x":3.02,"y":4.62},{"p":"D","c":"g","x":3.45,"y":4.51},{"p":"D","c":"g","x":4.33,"y":4.65},{"p":"D","c":"g","x":0.3,"y":4.58},{"p":"D","c":"g","x":0.87,"y":4.36},{"p":"D","c":"g","x":0.74,"y":4.21},{"p":"D","c":"g","x":1.54,"y":4.29},{"p":"D","c":"g","x":1.97,"y":4.05},{"p":"D","c":"g","x":2.75,"y":4.15},{"p":"D","c":"g","x":2.6,"y":4.0},{"p":"D","c":"g","x":4.08,"y":3.98},{"p":"D","c":"g","x":6.51,"y":4.15},{"p":"D","c":"g","x":7.15,"y":4.1},{"p":"D","c":"g","x":4.5,"y":3.67},{"p":"D","c":"g","x":1.54,"y":3.56},{"p":"D","c":"g","x":2.28,"y":3.31},{"p":"D","c":"g","x":2.64,"y":3.23},{"p":"D","c":"g","x":3.13,"y":3.54},{"p":"D","c":"g","x":3.83,"y":3.43},{"p":"D","c":"g","x":1.23,"y":3.21},{"p":"D","c":"g","x":1.33,"y":3.08},{"p":"D","c":"g","x":4.93,"y":3.18},{"p":"D","c":"g","x":4.82,"y":2.92},{"p":"D","c":"g","x":4.71,"y":2.75},{"p":"D","c":"g","x":6.62,"y":3.1},{"p":"D","c":"g","x":7.04,"y":3.1},{"p":"D","c":"g","x":7.0,"y":2.87},{"p":"D","c":"g","x":0.38,"y":2.36},{"p":"D","c":"g","x":0.49,"y":2.1},{"p":"D","c":"g","x":0.44,"y":1.85},{"p":"D","c":"g","x":0.38,"y":1.64},
    {"p":"D","c":"u","x":-0.78,"y":5.79},{"p":"D","c":"u","x":-0.99,"y":2.46},{"p":"D","c":"u","x":-0.68,"y":2.56},{"p":"D","c":"u","x":-0.57,"y":1.74},{"p":"D","c":"u","x":-0.72,"y":1.38},
    {"p":"D","c":"n","x":0.11,"y":4.0},{"p":"D","c":"n","x":0.11,"y":3.18},{"p":"D","c":"n","x":-0.04,"y":2.26},{"p":"D","c":"n","x":-0.25,"y":1.95},{"p":"D","c":"n","x":0.06,"y":1.64},{"p":"D","c":"n","x":-0.36,"y":1.33},{"p":"D","c":"n","x":0.17,"y":1.23},{"p":"D","c":"n","x":-0.57,"y":1.03},{"p":"D","c":"n","x":-0.15,"y":0.97},{"p":"D","c":"n","x":0.49,"y":1.03},{"p":"D","c":"n","x":-1.21,"y":0.82},{"p":"D","c":"n","x":-0.57,"y":0.62},{"p":"D","c":"n","x":0.06,"y":0.62},{"p":"D","c":"n","x":0.49,"y":0.67},{"p":"D","c":"n","x":1.44,"y":0.82},{"p":"D","c":"n","x":1.65,"y":0.67},{"p":"D","c":"n","x":3.76,"y":0.77},{"p":"D","c":"n","x":-2.26,"y":0.26},{"p":"D","c":"n","x":-1.31,"y":0.15},{"p":"D","c":"n","x":-0.57,"y":0.21},{"p":"D","c":"n","x":0.06,"y":0.1},{"p":"D","c":"n","x":0.7,"y":0.21},{"p":"D","c":"n","x":1.01,"y":0.15},{"p":"D","c":"n","x":-0.36,"y":0.41},{"p":"D","c":"n","x":0.27,"y":0.36},{"p":"D","c":"n","x":-0.2,"y":2.2},{"p":"D","c":"n","x":-0.1,"y":1.9},{"p":"D","c":"n","x":-0.4,"y":1.6},{"p":"D","c":"n","x":0.1,"y":1.45},{"p":"D","c":"n","x":-0.6,"y":1.15},{"p":"D","c":"n","x":0.1,"y":0.85},{"p":"D","c":"n","x":-0.3,"y":0.8},{"p":"D","c":"n","x":-0.8,"y":0.4},{"p":"D","c":"n","x":0.4,"y":0.4},{"p":"D","c":"n","x":0.5,"y":0.1},{"p":"D","c":"n","x":-0.9,"y":0.1},{"p":"D","c":"n","x":0.9,"y":0.45},{"p":"D","c":"n","x":0.3,"y":1.15},{"p":"D","c":"n","x":-0.1,"y":3.3},{"p":"D","c":"n","x":0.05,"y":3.9}
  ]},
  "columns": 2,
  "spacing": {"row": 146, "column": 96},
  "bounds": "flush",
  "resolve": {"scale": {"color": "shared", "fill": "shared", "stroke": "shared"}, "legend": {"color": "shared", "fill": "shared", "stroke": "shared"}},
  "concat": [
    {
      "width": 348, "height": 359,
      "layer": [
        {
          "transform": [{"filter": "datum.p === 'A'"}],
          "encoding": {
            "x": {"field": "x", "type": "quantitative", "title": ["log2 fold change", "(organoid samples vs. ECM blank samples)"], "scale": {"domain": [-11, 11], "nice": false, "zero": false},
              "axis": {"values": [-10, -7.5, -5, -2.5, 0, 2.5, 5, 7.5, 10], "labelExpr": "datum.value % 5 === 0 ? replace(datum.label, '−', '-') : ''", "gridWidth": {"condition": {"test": "datum.value % 5 === 0", "value": 1.6}, "value": 0.9}, "tickOpacity": {"condition": {"test": "datum.value % 5 === 0", "value": 1}, "value": 0}, "titleLineHeight": 20, "titlePadding": 4}},
            "y": {"field": "y", "type": "quantitative", "title": "−log10 p-value", "scale": {"domain": [-0.56, 10.52], "nice": false, "zero": false},
              "axis": {"values": [0, 1.25, 2.5, 3.75, 5, 6.25, 7.5, 8.75, 10], "format": ".1f", "labelExpr": "datum.value % 2.5 === 0 ? datum.label : ''", "gridWidth": {"condition": {"test": "datum.value % 2.5 === 0", "value": 1.6}, "value": 0.9}, "tickOpacity": {"condition": {"test": "datum.value % 2.5 === 0", "value": 1}, "value": 0}, "titlePadding": 0}}
          },
          "layer": [
            {"transform": [{"filter": "datum.c === 'g'"}], "mark": {"type": "point", "filled": true, "size": 95, "opacity": 1},
              "encoding": {"color": {"field": "c", "type": "nominal", "scale": {"domain": ["g"], "range": ["#00844F"]}, "legend": {"title": null, "labelExpr": "'Features with significantly and relevantly higher abundance in organoid samples'"}}}},
            {"transform": [{"filter": "false"}], "mark": {"type": "point", "filled": true, "size": 95, "opacity": 1},
              "encoding": {"fill": {"field": "c", "type": "nominal", "scale": {"domain": ["n"], "range": ["#A9A9A9"]}, "legend": {"title": null, "labelExpr": "'Features not significantly or not relevantly differing in their abundance'"}}}},
            {"transform": [{"filter": "datum.c === 'u'"}], "mark": {"type": "point", "filled": true, "size": 95, "opacity": 1, "fill": "#9A67D0", "strokeWidth": 0},
              "encoding": {"stroke": {"field": "c", "type": "nominal", "scale": {"domain": ["u"], "range": ["#9A67D0"]}, "legend": {"title": null, "symbolFillColor": "#9A67D0", "labelExpr": "'Features with significantly and relevantly higher abundance in ECM blank samples'"}}}},
            {"transform": [{"filter": "datum.c === 'n'"}], "mark": {"type": "point", "filled": true, "size": 95, "opacity": 1, "color": "#A9A9A9"}}
          ]
        },
        {"data": {"values": [{"t": "A"}]}, "mark": {"type": "text", "align": "left", "baseline": "alphabetic", "fontSize": 52, "fontWeight": "bold", "font": "Liberation Sans", "color": "#1A1A1A"},
          "encoding": {"x": {"datum": -14.79, "type": "quantitative", "title": ["log2 fold change", "(organoid samples vs. ECM blank samples)"]}, "y": {"datum": 10.55, "type": "quantitative", "title": "−log10 p-value"}, "text": {"field": "t"}}},
        {"data": {"values": [{"t": "HILIC ESI(+)"}]}, "mark": {"type": "text", "align": "left", "baseline": "alphabetic", "fontSize": 29, "font": "Liberation Sans", "color": "#000000"},
          "encoding": {"x": {"datum": -10.95, "type": "quantitative", "title": ["log2 fold change", "(organoid samples vs. ECM blank samples)"]}, "y": {"datum": 10.83, "type": "quantitative", "title": "−log10 p-value"}, "text": {"field": "t"}}}
      ]
    },
    {
      "width": 348, "height": 359,
      "layer": [
        {
          "transform": [{"filter": "datum.p === 'B'"}],
          "encoding": {
            "x": {"field": "x", "type": "quantitative", "title": ["log2 fold change", "(organoid samples vs. ECM blank samples)"], "scale": {"domain": [-11, 11], "nice": false, "zero": false},
              "axis": {"values": [-10, -7.5, -5, -2.5, 0, 2.5, 5, 7.5, 10], "labelExpr": "datum.value % 5 === 0 ? replace(datum.label, '−', '-') : ''", "gridWidth": {"condition": {"test": "datum.value % 5 === 0", "value": 1.6}, "value": 0.9}, "tickOpacity": {"condition": {"test": "datum.value % 5 === 0", "value": 1}, "value": 0}, "titleLineHeight": 20, "titlePadding": 4}},
            "y": {"field": "y", "type": "quantitative", "title": "−log10 p-value", "scale": {"domain": [-0.56, 10.52], "nice": false, "zero": false},
              "axis": {"values": [0, 1.25, 2.5, 3.75, 5, 6.25, 7.5, 8.75, 10], "format": ".1f", "labelExpr": "datum.value % 2.5 === 0 ? datum.label : ''", "gridWidth": {"condition": {"test": "datum.value % 2.5 === 0", "value": 1.6}, "value": 0.9}, "tickOpacity": {"condition": {"test": "datum.value % 2.5 === 0", "value": 1}, "value": 0}, "titlePadding": 0}}
          },
          "layer": [
            {"transform": [{"filter": "datum.c === 'g'"}], "mark": {"type": "point", "filled": true, "size": 95, "opacity": 1},
              "encoding": {"color": {"field": "c", "type": "nominal", "scale": {"domain": ["g"], "range": ["#00844F"]}, "legend": {"title": null, "labelExpr": "'Features with significantly and relevantly higher abundance in organoid samples'"}}}},
            {"transform": [{"filter": "false"}], "mark": {"type": "point", "filled": true, "size": 95, "opacity": 1},
              "encoding": {"fill": {"field": "c", "type": "nominal", "scale": {"domain": ["n"], "range": ["#A9A9A9"]}, "legend": {"title": null, "labelExpr": "'Features not significantly or not relevantly differing in their abundance'"}}}},
            {"transform": [{"filter": "datum.c === 'u'"}], "mark": {"type": "point", "filled": true, "size": 95, "opacity": 1, "fill": "#9A67D0", "strokeWidth": 0},
              "encoding": {"stroke": {"field": "c", "type": "nominal", "scale": {"domain": ["u"], "range": ["#9A67D0"]}, "legend": {"title": null, "symbolFillColor": "#9A67D0", "labelExpr": "'Features with significantly and relevantly higher abundance in ECM blank samples'"}}}},
            {"transform": [{"filter": "datum.c === 'n'"}], "mark": {"type": "point", "filled": true, "size": 95, "opacity": 1, "color": "#A9A9A9"}}
          ]
        },
        {"data": {"values": [{"t": "B"}]}, "mark": {"type": "text", "align": "left", "baseline": "alphabetic", "fontSize": 52, "fontWeight": "bold", "font": "Liberation Sans", "color": "#1A1A1A"},
          "encoding": {"x": {"datum": -14.79, "type": "quantitative", "title": ["log2 fold change", "(organoid samples vs. ECM blank samples)"]}, "y": {"datum": 10.55, "type": "quantitative", "title": "−log10 p-value"}, "text": {"field": "t"}}},
        {"data": {"values": [{"t": "HILIC ESI(−)"}]}, "mark": {"type": "text", "align": "left", "baseline": "alphabetic", "fontSize": 29, "font": "Liberation Sans", "color": "#000000"},
          "encoding": {"x": {"datum": -10.95, "type": "quantitative", "title": ["log2 fold change", "(organoid samples vs. ECM blank samples)"]}, "y": {"datum": 10.83, "type": "quantitative", "title": "−log10 p-value"}, "text": {"field": "t"}}}
      ]
    },
    {
      "width": 348, "height": 359,
      "layer": [
        {
          "transform": [{"filter": "datum.p === 'C'"}],
          "encoding": {
            "x": {"field": "x", "type": "quantitative", "title": ["log2 fold change", "(organoid samples vs. ECM blank samples)"], "scale": {"domain": [-11, 11], "nice": false, "zero": false},
              "axis": {"values": [-10, -7.5, -5, -2.5, 0, 2.5, 5, 7.5, 10], "labelExpr": "datum.value % 5 === 0 ? replace(datum.label, '−', '-') : ''", "gridWidth": {"condition": {"test": "datum.value % 5 === 0", "value": 1.6}, "value": 0.9}, "tickOpacity": {"condition": {"test": "datum.value % 5 === 0", "value": 1}, "value": 0}, "titleLineHeight": 20, "titlePadding": 4}},
            "y": {"field": "y", "type": "quantitative", "title": "−log10 p-value", "scale": {"domain": [-0.56, 10.52], "nice": false, "zero": false},
              "axis": {"values": [0, 1.25, 2.5, 3.75, 5, 6.25, 7.5, 8.75, 10], "format": ".1f", "labelExpr": "datum.value % 2.5 === 0 ? datum.label : ''", "gridWidth": {"condition": {"test": "datum.value % 2.5 === 0", "value": 1.6}, "value": 0.9}, "tickOpacity": {"condition": {"test": "datum.value % 2.5 === 0", "value": 1}, "value": 0}, "titlePadding": 0}}
          },
          "layer": [
            {"transform": [{"filter": "datum.c === 'g'"}], "mark": {"type": "point", "filled": true, "size": 95, "opacity": 1},
              "encoding": {"color": {"field": "c", "type": "nominal", "scale": {"domain": ["g"], "range": ["#00844F"]}, "legend": {"title": null, "labelExpr": "'Features with significantly and relevantly higher abundance in organoid samples'"}}}},
            {"transform": [{"filter": "false"}], "mark": {"type": "point", "filled": true, "size": 95, "opacity": 1},
              "encoding": {"fill": {"field": "c", "type": "nominal", "scale": {"domain": ["n"], "range": ["#A9A9A9"]}, "legend": {"title": null, "labelExpr": "'Features not significantly or not relevantly differing in their abundance'"}}}},
            {"transform": [{"filter": "datum.c === 'u'"}], "mark": {"type": "point", "filled": true, "size": 95, "opacity": 1, "fill": "#9A67D0", "strokeWidth": 0},
              "encoding": {"stroke": {"field": "c", "type": "nominal", "scale": {"domain": ["u"], "range": ["#9A67D0"]}, "legend": {"title": null, "symbolFillColor": "#9A67D0", "labelExpr": "'Features with significantly and relevantly higher abundance in ECM blank samples'"}}}},
            {"transform": [{"filter": "datum.c === 'n'"}], "mark": {"type": "point", "filled": true, "size": 95, "opacity": 1, "color": "#A9A9A9"}}
          ]
        },
        {"data": {"values": [{"t": "C"}]}, "mark": {"type": "text", "align": "left", "baseline": "alphabetic", "fontSize": 52, "fontWeight": "bold", "font": "Liberation Sans", "color": "#1A1A1A"},
          "encoding": {"x": {"datum": -14.79, "type": "quantitative", "title": ["log2 fold change", "(organoid samples vs. ECM blank samples)"]}, "y": {"datum": 10.55, "type": "quantitative", "title": "−log10 p-value"}, "text": {"field": "t"}}},
        {"data": {"values": [{"t": "RPLC ESI(+)"}]}, "mark": {"type": "text", "align": "left", "baseline": "alphabetic", "fontSize": 29, "font": "Liberation Sans", "color": "#000000"},
          "encoding": {"x": {"datum": -10.95, "type": "quantitative", "title": ["log2 fold change", "(organoid samples vs. ECM blank samples)"]}, "y": {"datum": 10.83, "type": "quantitative", "title": "−log10 p-value"}, "text": {"field": "t"}}}
      ]
    },
    {
      "width": 348, "height": 359,
      "layer": [
        {
          "transform": [{"filter": "datum.p === 'D'"}],
          "encoding": {
            "x": {"field": "x", "type": "quantitative", "title": ["log2 fold change", "(organoid samples vs. ECM blank samples)"], "scale": {"domain": [-11, 11], "nice": false, "zero": false},
              "axis": {"values": [-10, -7.5, -5, -2.5, 0, 2.5, 5, 7.5, 10], "labelExpr": "datum.value % 5 === 0 ? replace(datum.label, '−', '-') : ''", "gridWidth": {"condition": {"test": "datum.value % 5 === 0", "value": 1.6}, "value": 0.9}, "tickOpacity": {"condition": {"test": "datum.value % 5 === 0", "value": 1}, "value": 0}, "titleLineHeight": 20, "titlePadding": 4}},
            "y": {"field": "y", "type": "quantitative", "title": "−log10 p-value", "scale": {"domain": [-0.56, 10.52], "nice": false, "zero": false},
              "axis": {"values": [0, 1.25, 2.5, 3.75, 5, 6.25, 7.5, 8.75, 10], "format": ".1f", "labelExpr": "datum.value % 2.5 === 0 ? datum.label : ''", "gridWidth": {"condition": {"test": "datum.value % 2.5 === 0", "value": 1.6}, "value": 0.9}, "tickOpacity": {"condition": {"test": "datum.value % 2.5 === 0", "value": 1}, "value": 0}, "titlePadding": 0}}
          },
          "layer": [
            {"transform": [{"filter": "datum.c === 'g'"}], "mark": {"type": "point", "filled": true, "size": 95, "opacity": 1},
              "encoding": {"color": {"field": "c", "type": "nominal", "scale": {"domain": ["g"], "range": ["#00844F"]}, "legend": {"title": null, "labelExpr": "'Features with significantly and relevantly higher abundance in organoid samples'"}}}},
            {"transform": [{"filter": "false"}], "mark": {"type": "point", "filled": true, "size": 95, "opacity": 1},
              "encoding": {"fill": {"field": "c", "type": "nominal", "scale": {"domain": ["n"], "range": ["#A9A9A9"]}, "legend": {"title": null, "labelExpr": "'Features not significantly or not relevantly differing in their abundance'"}}}},
            {"transform": [{"filter": "datum.c === 'u'"}], "mark": {"type": "point", "filled": true, "size": 95, "opacity": 1, "fill": "#9A67D0", "strokeWidth": 0},
              "encoding": {"stroke": {"field": "c", "type": "nominal", "scale": {"domain": ["u"], "range": ["#9A67D0"]}, "legend": {"title": null, "symbolFillColor": "#9A67D0", "labelExpr": "'Features with significantly and relevantly higher abundance in ECM blank samples'"}}}},
            {"transform": [{"filter": "datum.c === 'n'"}], "mark": {"type": "point", "filled": true, "size": 95, "opacity": 1, "color": "#A9A9A9"}}
          ]
        },
        {"data": {"values": [{"t": "D"}]}, "mark": {"type": "text", "align": "left", "baseline": "alphabetic", "fontSize": 52, "fontWeight": "bold", "font": "Liberation Sans", "color": "#1A1A1A"},
          "encoding": {"x": {"datum": -14.79, "type": "quantitative", "title": ["log2 fold change", "(organoid samples vs. ECM blank samples)"]}, "y": {"datum": 10.55, "type": "quantitative", "title": "−log10 p-value"}, "text": {"field": "t"}}},
        {"data": {"values": [{"t": "RPLC ESI(−)"}]}, "mark": {"type": "text", "align": "left", "baseline": "alphabetic", "fontSize": 29, "font": "Liberation Sans", "color": "#000000"},
          "encoding": {"x": {"datum": -10.95, "type": "quantitative", "title": ["log2 fold change", "(organoid samples vs. ECM blank samples)"]}, "y": {"datum": 10.83, "type": "quantitative", "title": "−log10 p-value"}, "text": {"field": "t"}}}
      ]
    }
  ]
}
